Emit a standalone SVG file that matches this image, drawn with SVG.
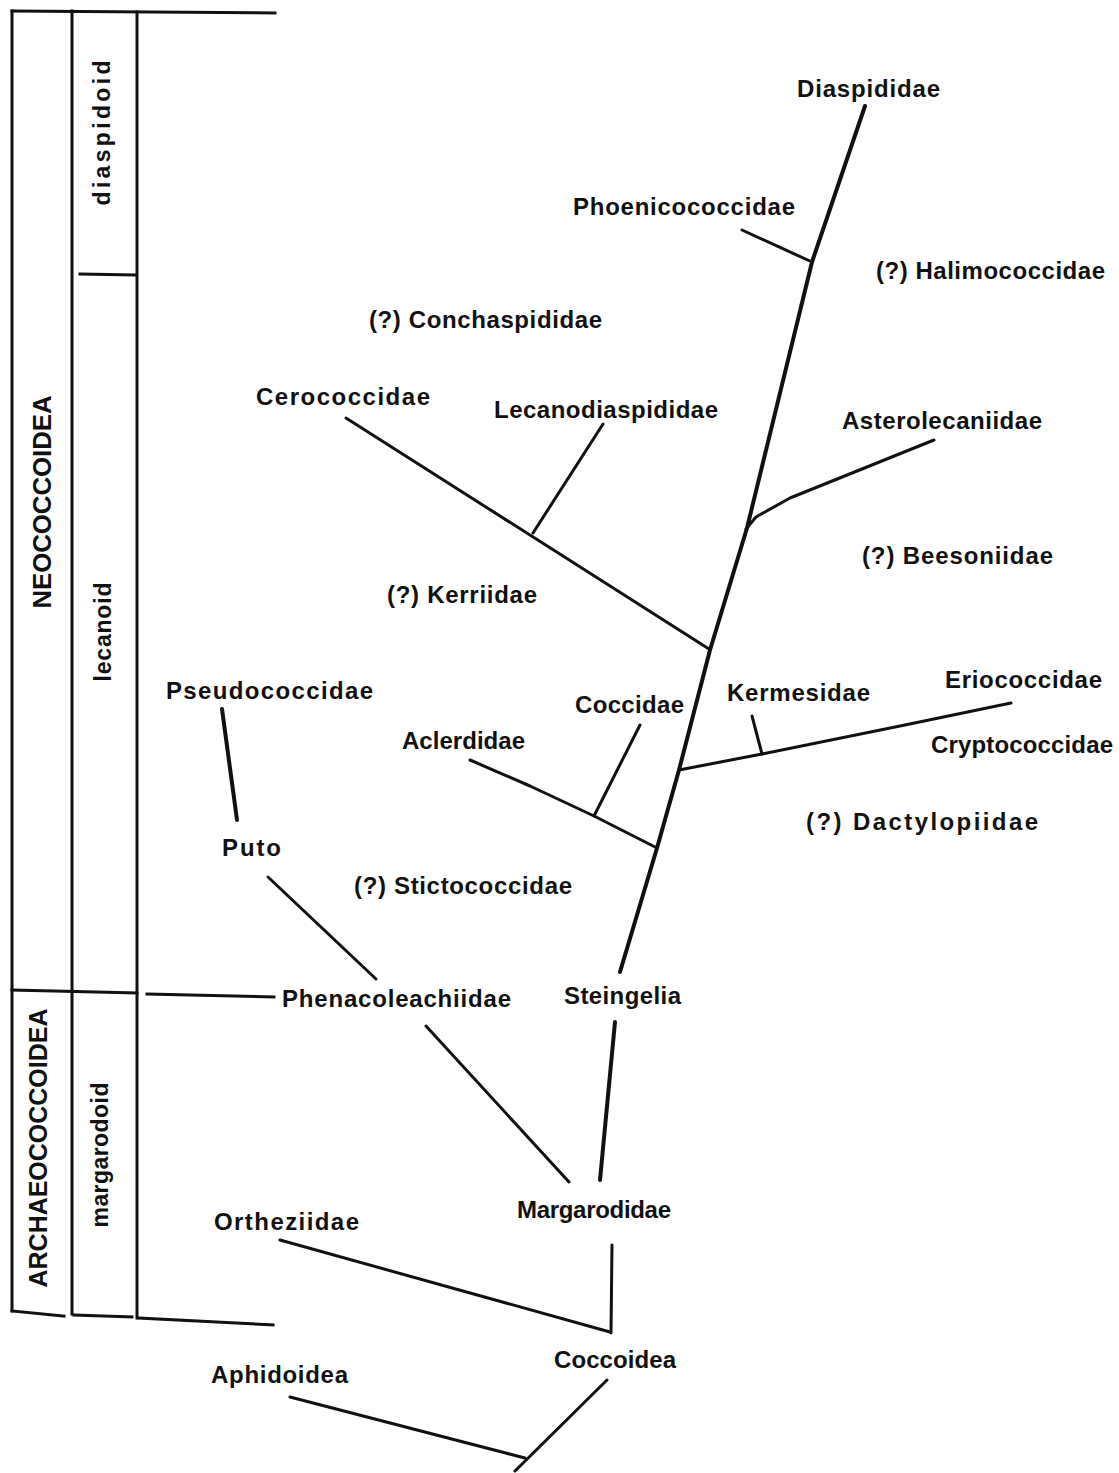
<svg xmlns="http://www.w3.org/2000/svg" width="1119" height="1473" viewBox="0 0 1119 1473">
<style>
.lbl{font-family:"Liberation Sans",Arial,sans-serif;font-size:24px;font-weight:bold;fill:#111}
.cap{font-family:"Liberation Sans",Arial,sans-serif;font-size:25px;font-weight:bold;fill:#111}
.grp{font-family:"Liberation Sans",Arial,sans-serif;font-size:23px;font-weight:bold;fill:#111}
.ln{stroke:#111;stroke-width:3;fill:none;stroke-linecap:round;stroke-linejoin:round}
.tk{stroke:#111;stroke-width:4;fill:none;stroke-linecap:round;stroke-linejoin:round}
.fr{stroke:#111;stroke-width:3;fill:none;stroke-linecap:square}
</style>
<rect width="1119" height="1473" fill="#fff"/>
<g id="frame">
<line class="fr" x1="12" y1="11" x2="275" y2="13"/>
<line class="fr" x1="12" y1="11" x2="12" y2="1311"/>
<line class="fr" x1="72" y1="11" x2="72" y2="1314"/>
<line class="fr" x1="137" y1="12" x2="137" y2="1318"/>
<line class="fr" x1="80" y1="274" x2="135" y2="275"/>
<line class="fr" x1="12" y1="990" x2="137" y2="993"/>
<line class="fr" x1="147" y1="994" x2="274" y2="997"/>
<line class="fr" x1="12" y1="1311" x2="64" y2="1316"/>
<line class="fr" x1="74" y1="1315" x2="132" y2="1317"/>
<line class="fr" x1="139" y1="1318" x2="273" y2="1325"/>
<text class="cap" transform="translate(51,502) rotate(-90)" text-anchor="middle" textLength="213" lengthAdjust="spacingAndGlyphs">NEOCOCCOIDEA</text>
<text class="cap" transform="translate(47,1148) rotate(-90)" text-anchor="middle" textLength="279" lengthAdjust="spacingAndGlyphs">ARCHAEOCOCCOIDEA</text>
<text class="grp" transform="translate(110,133) rotate(-90)" text-anchor="middle" textLength="145">diaspidoid</text>
<text class="grp" transform="translate(111,632) rotate(-90)" text-anchor="middle" textLength="99">lecanoid</text>
<text class="grp" transform="translate(108,1155) rotate(-90)" text-anchor="middle" textLength="145">margarodoid</text>
</g>
<g id="connectors">
<polyline class="tk" points="865,106 812,262 747,528 710,650 679,770 657,848 620,972"/>
<line class="ln" x1="742" y1="230" x2="812" y2="262"/>
<line class="ln" x1="346" y1="418" x2="709" y2="649"/>
<line class="ln" x1="603" y1="424" x2="533" y2="533"/>
<polyline class="ln" points="934,440 790,498 756,517 746,529"/>
<polyline class="ln" points="1011,703 900,726 762,754 679,770"/>
<line class="ln" x1="752" y1="716" x2="762" y2="754"/>
<polyline class="ln" points="470,760 530,786 594,816 657,848"/>
<line class="ln" x1="640" y1="725" x2="594" y2="816"/>
<line class="tk" x1="222" y1="709" x2="237" y2="820"/>
<line class="ln" x1="268" y1="877" x2="376" y2="979"/>
<line class="ln" x1="426" y1="1026" x2="569" y2="1182"/>
<line class="tk" x1="615" y1="1022" x2="600" y2="1180"/>
<line class="ln" x1="612" y1="1245" x2="611" y2="1333"/>
<line class="ln" x1="280" y1="1240" x2="610" y2="1332"/>
<line class="ln" x1="607" y1="1380" x2="515" y2="1471"/>
<line class="ln" x1="290" y1="1397" x2="525" y2="1458"/>
</g>
<g id="n-diaspididae"><text class="lbl" x="797" y="97" textLength="143">Diaspididae</text></g>
<g id="n-phoenicococcidae"><text class="lbl" x="573" y="215" textLength="222">Phoenicococcidae</text></g>
<g id="n-halimococcidae"><text class="lbl" x="876" y="279" textLength="229">(?) Halimococcidae</text></g>
<g id="n-conchaspididae"><text class="lbl" x="369" y="328" textLength="233">(?) Conchaspididae</text></g>
<g id="n-cerococcidae"><text class="lbl" x="256" y="405" textLength="174">Cerococcidae</text></g>
<g id="n-lecanodiaspididae"><text class="lbl" x="494" y="418" textLength="224">Lecanodiaspididae</text></g>
<g id="n-asterolecaniidae"><text class="lbl" x="842" y="429" textLength="200">Asterolecaniidae</text></g>
<g id="n-beesoniidae"><text class="lbl" x="862" y="564" textLength="191">(?) Beesoniidae</text></g>
<g id="n-kerriidae"><text class="lbl" x="387" y="603" textLength="150">(?) Kerriidae</text></g>
<g id="n-pseudococcidae"><text class="lbl" x="166" y="699" textLength="207">Pseudococcidae</text></g>
<g id="n-coccidae"><text class="lbl" x="575" y="713" textLength="109">Coccidae</text></g>
<g id="n-kermesidae"><text class="lbl" x="727" y="701" textLength="143">Kermesidae</text></g>
<g id="n-eriococcidae"><text class="lbl" x="945" y="688" textLength="157">Eriococcidae</text></g>
<g id="n-cryptococcidae"><text class="lbl" x="931" y="753" textLength="182">Cryptococcidae</text></g>
<g id="n-aclerdidae"><text class="lbl" x="402" y="749" textLength="123">Aclerdidae</text></g>
<g id="n-dactylopiidae"><text class="lbl" x="806" y="830" textLength="232">(?) Dactylopiidae</text></g>
<g id="n-puto"><text class="lbl" x="222" y="856" textLength="59">Puto</text></g>
<g id="n-stictococcidae"><text class="lbl" x="354" y="894" textLength="218">(?) Stictococcidae</text></g>
<g id="n-phenacoleachiidae"><text class="lbl" x="282" y="1007" textLength="229">Phenacoleachiidae</text></g>
<g id="n-steingelia"><text class="lbl" x="564" y="1004" textLength="117">Steingelia</text></g>
<g id="n-margarodidae"><text class="lbl" x="517" y="1218" textLength="154">Margarodidae</text></g>
<g id="n-ortheziidae"><text class="lbl" x="214" y="1230" textLength="145">Ortheziidae</text></g>
<g id="n-coccoidea"><text class="lbl" x="554" y="1368" textLength="122">Coccoidea</text></g>
<g id="n-aphidoidea"><text class="lbl" x="211" y="1383" textLength="137">Aphidoidea</text></g>
</svg>
